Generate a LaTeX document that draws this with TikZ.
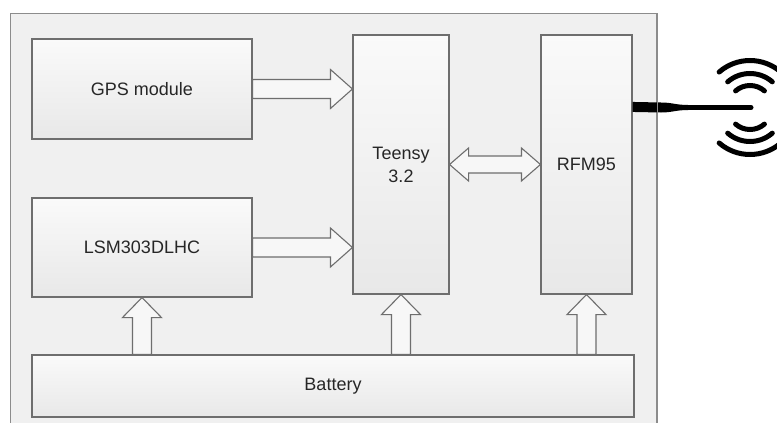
\documentclass[tikz,border=0pt]{standalone}
\usepackage{fontspec}
\setmainfont{Liberation Sans}
\usepackage{tikz}
\usetikzlibrary{calc}
\tikzset{
	block diagram/.style={
		x=1pt, y=-1pt,
		font=\fontsize{18}{23}\selectfont,
		text=black!85,
		line join=miter},
	fa shaft/.store in=\fashaft,
	fa shaft=9.5pt,
	fa head/.store in=\fahead,
	fa head=19.5pt,
	fa len/.store in=\falen,
	fa len=22pt,
	frame/.style={draw=black!45, line width=1.3pt, fill=black!6, inner sep=0pt},
	blk/.style={draw=black!57, line width=1.1pt, top color=black!2, bottom color=black!9,
		inner sep=0pt, align=center},
	fat arrow/.style={draw=black!57, line width=1.1pt, fill=black!3,
		to path={
			($(\tikztostart)!\fashaft!90:(\tikztotarget)$)
			-- ($(\tikztotarget)!\falen!(\tikztostart)!\fashaft!-90:(\tikztostart)$)
			-- ($(\tikztotarget)!\falen!(\tikztostart)!\fahead!-90:(\tikztostart)$)
			-- (\tikztotarget)
			-- ($(\tikztotarget)!\falen!(\tikztostart)!\fahead!90:(\tikztostart)$)
			-- ($(\tikztotarget)!\falen!(\tikztostart)!\fashaft!90:(\tikztostart)$)
			-- ($(\tikztostart)!\fashaft!-90:(\tikztotarget)$)
			-- cycle}},
	fat arrows/.style={draw=black!57, line width=1.1pt, fill=black!3,
		to path={
			(\tikztostart)
			-- ($(\tikztostart)!\falen!(\tikztotarget)!\fahead!90:(\tikztotarget)$)
			-- ($(\tikztostart)!\falen!(\tikztotarget)!\fashaft!90:(\tikztotarget)$)
			-- ($(\tikztotarget)!\falen!(\tikztostart)!\fashaft!-90:(\tikztostart)$)
			-- ($(\tikztotarget)!\falen!(\tikztostart)!\fahead!-90:(\tikztostart)$)
			-- (\tikztotarget)
			-- ($(\tikztotarget)!\falen!(\tikztostart)!\fahead!90:(\tikztostart)$)
			-- ($(\tikztotarget)!\falen!(\tikztostart)!\fashaft!90:(\tikztostart)$)
			-- ($(\tikztostart)!\falen!(\tikztotarget)!\fashaft!-90:(\tikztotarget)$)
			-- ($(\tikztostart)!\falen!(\tikztotarget)!\fahead!-90:(\tikztotarget)$)
			-- cycle}},
	wave/.style={line width=5pt, line cap=round}
}

\begin{document}
\begin{tikzpicture}[block diagram]
   \useasboundingbox (0,0) rectangle (777,423);
   \clip (0,0) rectangle (777,423);
   \node[frame, minimum width=646pt, minimum height=440pt, anchor=north west] (board) at (10,13) {};
   \node[blk, minimum width=220pt, minimum height=100pt] (gps) at (142,89) {GPS module};
   \node[blk, minimum width=220pt, minimum height=99pt] (lsm) at (142,247.5) {LSM303DLHC};
   \node[blk, minimum width=96pt, minimum height=259pt] (teensy) at (401,164.5) {Teensy\\3.2};
   \node[blk, minimum width=91pt, minimum height=259pt] (rfm) at (586.5,164.5) {RFM95};
   \node[blk, minimum width=602pt, minimum height=62pt] (battery) at (333,386) {Battery};
   % data and power
   \draw[fat arrow] (gps.east) to (gps.east -| teensy.west);
   \draw[fat arrow] (lsm.east) to (lsm.east -| teensy.west);
   \draw[fat arrows, fa shaft=8.5pt, fa head=16.5pt, fa len=19pt] (teensy.east) to (rfm.west);
   \foreach \n in {lsm,teensy,rfm}
      \draw[fat arrow, fa len=20pt] (battery.north -| \n.south) to (\n.south);
   % antenna
   \coordinate (ant) at ($(rfm.north east)+(0,72.5)$);
   \coordinate (tip) at (751,107.5);
   \fill ($(ant)+(0,-5)$) -- (661,102.5) .. controls (672,102.5) and (676,105) .. (688,105)
      -- (688,110) .. controls (676,110) and (672,112.5) .. (661,112.5) -- ($(ant)+(0,5)$) -- cycle;
   \draw[line width=5pt, line cap=round] (688,107.5) -- (tip);
   \draw[draw=black!45, line width=1.3pt] (board.north east) -- (board.south east);
   \foreach \r in {22,34,47} {
      \draw[wave] ($(750,107.5)+(229:\r)$) arc[start angle=229, end angle=311, radius=\r];
      \draw[wave] ($(750,107.5)+(49:\r)$) arc[start angle=49, end angle=131, radius=\r];
   }
\end{tikzpicture}
\end{document}
